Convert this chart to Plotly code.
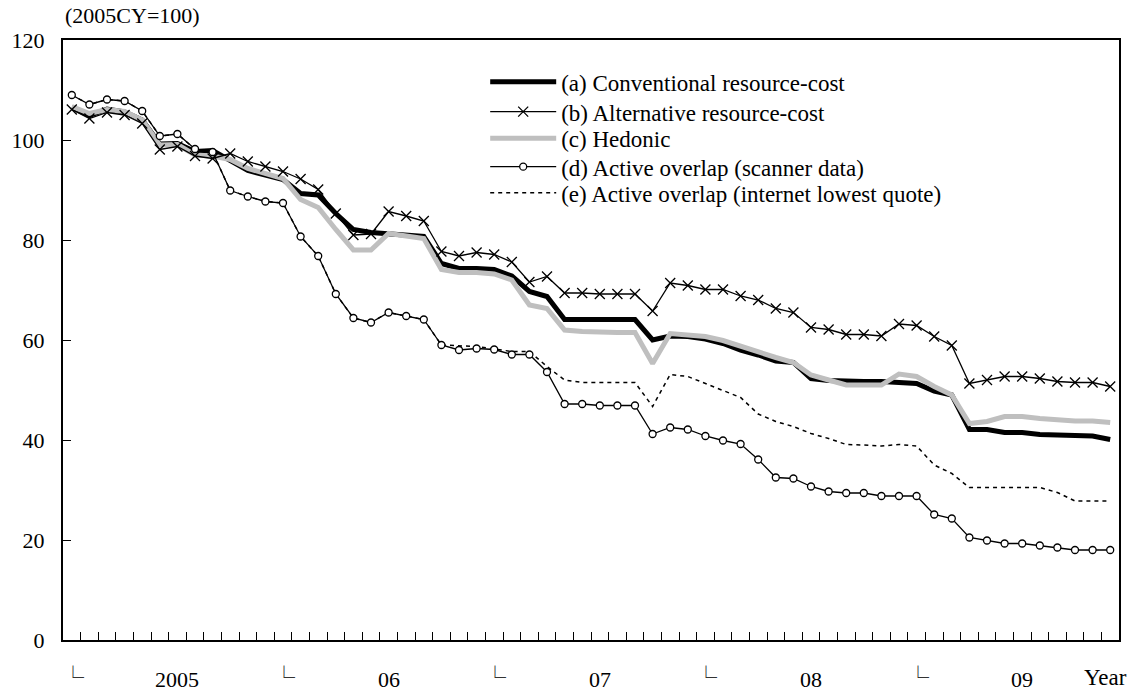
import plotly.graph_objects as go

months = list(range(60))  # Jan 2005 .. Dec 2009

conventional = [106.5, 104.9, 106.2, 105.6, 104.0, 99.2, 99.3, 97.7, 97.9, 96.0,
                93.9, 93.0, 92.1, 89.3, 89.0, 85.3, 82.1, 81.5, 81.3, 81.1,
                80.7, 75.3, 74.3, 74.3, 74.1, 72.8, 69.7, 68.7, 64.1, 64.1,
                64.1, 64.1, 64.1, 60.0, 60.8, 60.7, 60.2, 59.3, 58.0, 57.0,
                55.8, 55.5, 52.3, 51.9, 51.7, 51.7, 51.7, 51.5, 51.3, 49.8,
                49.0, 42.1, 42.1, 41.5, 41.5, 41.1, 41.0, 40.8, 40.8, 40.1]

alternative = [106.1, 104.3, 105.5, 105.0, 103.3, 98.1, 98.7, 96.8, 96.3, 97.3,
               95.7, 94.7, 93.7, 92.2, 90.1, 85.3, 81.0, 81.2, 85.7, 84.8,
               83.8, 77.7, 76.8, 77.5, 77.1, 75.6, 71.6, 72.7, 69.4, 69.4,
               69.2, 69.2, 69.2, 65.8, 71.4, 70.9, 70.1, 70.1, 68.8, 68.0,
               66.3, 65.5, 62.5, 62.1, 61.1, 61.1, 60.8, 63.2, 62.9, 60.7,
               58.9, 51.3, 52.0, 52.7, 52.7, 52.3, 51.7, 51.5, 51.5, 50.7]

hedonic = [106.7, 105.3, 106.1, 105.7, 104.0, 99.0, 99.1, 97.0, 96.8, 96.1,
           94.3, 93.3, 92.3, 88.1, 86.5, 82.1, 78.0, 78.0, 81.3, 80.8,
           80.3, 74.1, 73.5, 73.5, 73.2, 72.0, 67.0, 66.3, 62.0, 61.7,
           61.5, 61.5, 61.5, 55.3, 61.3, 61.1, 60.7, 59.9, 58.7, 57.7,
           56.5, 55.5, 53.0, 52.0, 51.0, 51.0, 51.0, 53.2, 52.7, 50.7,
           49.0, 43.3, 43.7, 44.7, 44.7, 44.3, 44.0, 43.8, 43.8, 43.5]

scanner = [109.0, 107.1, 108.1, 107.8, 105.8, 100.8, 101.2, 98.2, 97.6, 89.9,
           88.7, 87.7, 87.4, 80.7, 76.8, 69.2, 64.4, 63.5, 65.5, 64.8,
           64.1, 59.0, 58.0, 58.3, 58.1, 57.1, 57.1, 53.6, 47.2, 47.2,
           46.9, 46.9, 46.9, 41.2, 42.5, 42.1, 40.8, 39.9, 39.2, 36.1,
           32.5, 32.3, 30.7, 29.7, 29.4, 29.4, 28.8, 28.8, 28.8, 25.1,
           24.3, 20.5, 19.9, 19.3, 19.3, 18.9, 18.5, 18.0, 18.0, 18.0]

internet = [109.0, 107.1, 108.1, 107.8, 105.8, 100.8, 101.2, 98.2, 97.6, 89.9,
            88.7, 87.7, 87.4, 80.7, 76.8, 69.2, 64.4, 63.5, 65.5, 64.8,
            64.1, 59.0, 58.8, 58.7, 58.2, 57.7, 57.7, 54.7, 52.0, 51.5,
            51.5, 51.5, 51.5, 46.7, 53.1, 52.7, 51.3, 50.0, 48.5, 45.2,
            43.7, 42.7, 41.3, 40.3, 39.1, 39.0, 38.8, 39.1, 38.8, 35.0,
            33.3, 30.5, 30.5, 30.5, 30.5, 30.5, 29.5, 27.8, 27.8, 27.8]

names = ["(a) Conventional resource-cost",
         "(b) Alternative resource-cost",
         "(c) Hedonic",
         "(d) Active overlap (scanner data)",
         "(e) Active overlap (internet lowest quote)"]

year_labels = ["2005", "06", "07", "08", "09"]
year_label_pos = [6, 18, 30, 42, 54]
year_start_pos = [0, 12, 24, 36, 48]

FONT = "Liberation Serif, Times New Roman, serif"

fig = go.Figure()

fig.add_trace(go.Scatter(x=months, y=conventional, name=names[0], mode="lines",
                         line=dict(color="black", width=5), legend="legend"))
fig.add_trace(go.Scatter(x=months, y=hedonic, name=names[2], mode="lines",
                         line=dict(color="#bfbfbf", width=5), legend="legend3"))
fig.add_trace(go.Scatter(x=months, y=alternative, name=names[1], mode="lines+markers",
                         line=dict(color="black", width=1.3),
                         marker=dict(symbol="x-thin", size=10,
                                     line=dict(color="black", width=1.3)),
                         legend="legend2"))
fig.add_trace(go.Scatter(x=months, y=internet, name=names[4], mode="lines",
                         line=dict(color="black", width=1.5, dash="4px,4px"),
                         legend="legend5"))
fig.add_trace(go.Scatter(x=months, y=scanner, name=names[3], mode="lines+markers",
                         line=dict(color="black", width=1.3),
                         marker=dict(symbol="circle", size=7, color="white",
                                     line=dict(color="black", width=1.3)),
                         legend="legend4"))

annotations = []
for lbl, pos in zip(year_labels, year_label_pos):
    annotations.append(dict(x=pos, y=-0.066, xref="x", yref="paper", text=lbl,
                            showarrow=False, xanchor="center", yanchor="middle",
                            font=dict(family=FONT, size=22, color="black")))
for pos in year_start_pos:
    annotations.append(dict(x=pos, y=-0.052, xref="x", yref="paper", text="└",
                            showarrow=False, xanchor="left", yanchor="middle",
                            xshift=-12, yshift=-4,
                            font=dict(family="Noto Sans CJK JP", size=22, color="#333")))
annotations.append(dict(x=0.987, y=-0.062, xref="paper", yref="paper", text="Year",
                        showarrow=False, xanchor="center", yanchor="middle",
                        font=dict(family=FONT, size=23, color="black")))
annotations.append(dict(x=0.0, y=1.04, xref="paper", yref="paper", text="(2005CY=100)",
                        showarrow=False, xanchor="left", yanchor="middle",
                        font=dict(family=FONT, size=22, color="black")))

legend_rows_y = [0.9305, 0.8805, 0.8362, 0.7888, 0.7455]
leg_common = dict(x=0.3998, xanchor="left", yanchor="middle",
                  bgcolor="rgba(0,0,0,0)", font=dict(family=FONT, size=23, color="black"),
                  itemwidth=66)

fig.update_layout(
    width=1139, height=693,
    margin=dict(l=61, r=20, t=40, b=53),
    paper_bgcolor="white", plot_bgcolor="white",
    font=dict(family=FONT, size=22, color="black"),
    showlegend=True,
    legend=dict(y=legend_rows_y[0], **leg_common),
    legend2=dict(y=legend_rows_y[1], **leg_common),
    legend3=dict(y=legend_rows_y[2], **leg_common),
    legend4=dict(y=legend_rows_y[3], **leg_common),
    legend5=dict(y=legend_rows_y[4], **leg_common),
    annotations=annotations,
)

fig.update_xaxes(range=[-0.5, 59.5], showgrid=False, zeroline=False,
                 showline=True, linecolor="black", linewidth=2, mirror=True,
                 tickmode="array", tickvals=[m + 0.5 for m in months[:-1]],
                 ticks="inside", ticklen=8, tickwidth=1.2, tickcolor="black",
                 showticklabels=False)
fig.update_yaxes(range=[0, 120], showgrid=False, zeroline=False,
                 showline=True, linecolor="black", linewidth=2, mirror=True,
                 tickmode="array", tickvals=[0, 20, 40, 60, 80, 100, 120],
                 ticks="inside", ticklen=8, tickwidth=1.2, tickcolor="black",
                 ticklabelstandoff=12,
                 tickfont=dict(family=FONT, size=22, color="black"))

fig.write_html("out.html", config={"displayModeBar": False},
               post_script="document.body.style.margin='0px';document.body.style.padding='0px';")
